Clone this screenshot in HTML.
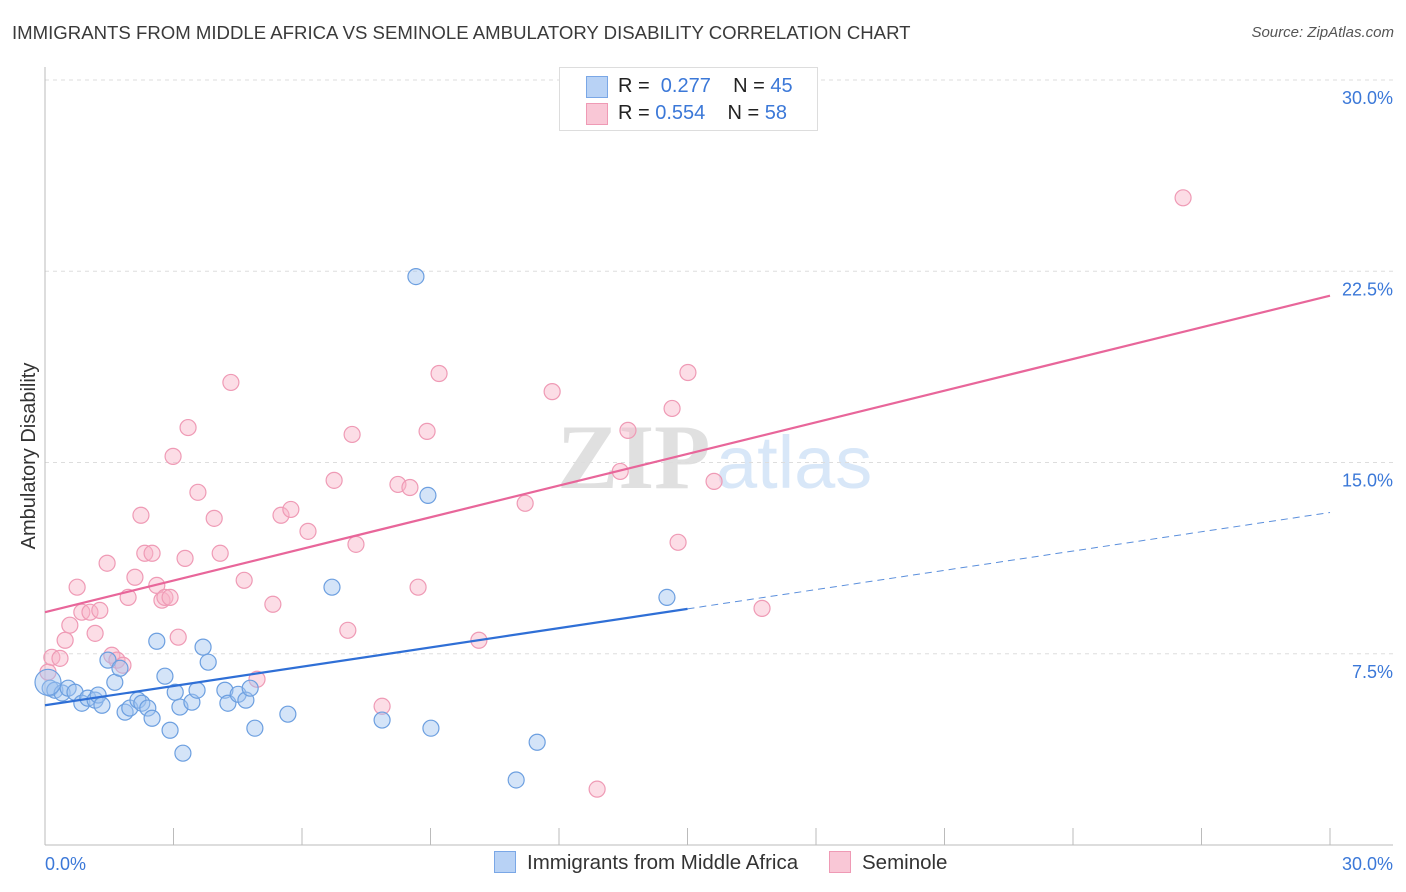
<!DOCTYPE html>
<html><head><meta charset="utf-8"><style>
body{margin:0;background:#fff;font-family:"Liberation Sans",sans-serif;}
#wrap{position:relative;width:1406px;height:892px;overflow:hidden;}
.t{position:absolute;white-space:nowrap;}
</style></head><body>
<div id="wrap">
<div class="t" style="left:12px;top:22px;font-size:18.6px;color:#3a3a3a;">IMMIGRANTS FROM MIDDLE AFRICA VS SEMINOLE AMBULATORY DISABILITY CORRELATION CHART</div>
<div class="t" style="right:12px;top:24px;font-size:15px;color:#555;font-style:italic;">Source: ZipAtlas.com</div>
<svg id="svg" width="1406" height="892" style="position:absolute;left:0;top:0"></svg>
</div>
<script>
const blueX=[0.12,0.23,0.40,0.54,0.70,0.86,1.00,1.17,1.24,1.33,1.47,1.63,1.75,1.87,1.98,2.17,2.26,2.40,2.50,2.61,2.80,2.92,3.04,3.15,3.22,3.43,3.55,3.69,3.81,4.20,4.27,4.51,4.69,4.79,4.90,5.67,6.70,7.87,8.66,8.94,9.01,11.00,11.49,14.52,0.07];
const blueY=[6.15,6.07,5.96,6.15,5.99,5.56,5.76,5.68,5.88,5.48,7.25,6.38,6.93,5.21,5.37,5.68,5.56,5.37,4.97,7.99,6.62,4.50,5.99,5.41,3.60,5.60,6.07,7.76,7.17,6.07,5.56,5.91,5.68,6.15,4.58,5.13,10.11,4.90,22.29,13.71,4.58,2.55,4.03,9.71,6.38];
const pinkX=[0.07,0.16,0.35,0.47,0.58,0.75,0.86,1.05,1.17,1.28,1.45,1.56,1.68,1.82,1.94,2.10,2.24,2.33,2.50,2.61,2.73,2.80,2.92,2.99,3.11,3.27,3.34,3.57,3.95,4.09,4.34,4.65,4.95,5.32,5.51,5.74,6.14,6.75,7.07,7.17,7.26,7.87,8.24,8.52,8.71,8.92,9.20,10.13,11.21,11.84,12.89,13.43,13.61,14.64,14.78,15.01,15.62,16.74,26.57];
const pinkY=[6.78,7.36,7.32,8.03,8.62,10.11,9.13,9.13,8.30,9.20,11.05,7.44,7.25,7.05,9.71,10.50,12.93,11.44,11.44,10.18,9.60,9.71,9.71,15.24,8.15,11.24,16.37,13.83,12.81,11.44,18.14,10.38,6.50,9.44,12.93,13.16,12.30,14.30,8.42,16.10,11.79,5.44,14.14,14.02,10.11,16.22,18.49,8.03,13.40,17.78,2.19,14.65,16.26,17.12,11.87,18.53,14.26,9.28,25.38];
const blueTrend=[5.48,13.04];
const pinkTrend=[9.13,21.54];
const yTicks=[7.5,15.0,22.5,30.0];
const yTickLabels=["7.5%","15.0%","22.5%","30.0%"];
const xTicks=[0,3,6,9,12,15,18,21,24,27,30];
const NS="http://www.w3.org/2000/svg";
const svg=document.getElementById('svg');
const X=v=>45+v*(1285/30);
const Y=v=>845-v*(765/30);
function el(t,a,p){const e=document.createElementNS(NS,t);for(const k in a)e.setAttribute(k,a[k]);(p||svg).appendChild(e);return e;}
let w=el('text',{x:557,y:488,'font-size':92,'font-family':'Liberation Serif,serif',fill:'#e0e0e0','font-weight':'bold'});w.textContent='ZIP';


let w2=el('text',{x:716,y:488,'font-size':74,'font-family':'Liberation Sans,sans-serif',fill:'#d8e7f8'});w2.textContent='atlas';


yTicks.forEach((v,i)=>{
 const g=el('line',{x1:45,x2:1393,y1:Y(v),y2:Y(v),stroke:'#ddd','stroke-dasharray':'4,4'});
 
 
 const t=el('text',{x:1393,y:Y(v)+24,'text-anchor':'end','font-size':18,fill:'#3b78d8'});t.textContent=yTickLabels[i];
 
 
});
let ax=el('line',{x1:45,x2:45,y1:67,y2:845,stroke:'#bbb'});


let axx=el('line',{x1:45,x2:1393,y1:845,y2:845,stroke:'#bbb'});


xTicks.forEach(v=>{const l=el('line',{x1:X(v),x2:X(v),y1:828,y2:845,stroke:'#bbb'});
 
 });
let xl=el('text',{x:45,y:870,'font-size':18,fill:'#3b78d8'});xl.textContent='0.0%';


let xr=el('text',{x:1393,y:870,'font-size':18,fill:'#3b78d8','text-anchor':'end'});xr.textContent='30.0%';


let yt=el('text',{x:35,y:456,'font-size':20,fill:'#333','text-anchor':'middle',transform:'rotate(-90 35 456)'});yt.textContent='Ambulatory Disability';


pinkX.forEach((x,i)=>{const c=el('circle',{cx:X(x),cy:Y(pinkY[i]),r:8,fill:'rgba(248,180,200,0.45)',stroke:'#ef9ab5','stroke-width':1.2});
 
 });
blueX.forEach((x,i)=>{const c=el('circle',{cx:X(x),cy:Y(blueY[i]),r:i==blueX.length-1?13:8,fill:'rgba(160,195,240,0.45)',stroke:'#6c9fe0','stroke-width':1.2});
 
 });
const by=x=>blueTrend[0]+(blueTrend[1]-blueTrend[0])*x/30;
let b1=el('line',{x1:X(0),y1:Y(by(0)),x2:X(15),y2:Y(by(15)),stroke:'#2f6fd6','stroke-width':2.2});


let b2=el('line',{x1:X(15),y1:Y(by(15)),x2:X(30),y2:Y(by(30)),stroke:'#5b8fdc','stroke-width':1,'stroke-dasharray':'7,5'});


let p1=el('line',{x1:X(0),y1:Y(pinkTrend[0]),x2:X(30),y2:Y(pinkTrend[1]),stroke:'#e8669a','stroke-width':2.2});


</script>
<div style="position:absolute;left:559px;top:67px;width:257px;height:62px;border:1px solid #ddd;background:#fff;font-size:20px;">
 <div style="position:absolute;left:26px;top:8px;width:20px;height:20px;background:#b8d2f5;border:1px solid #7aa7e6"></div>
 <div class="t" style="left:58px;top:7px;color:#222">R = <span style="color:#3b78d8">&nbsp;0.277</span>&nbsp;&nbsp;&nbsp;&nbsp;N = <span style="color:#3b78d8">45</span></div>
 <div style="position:absolute;left:26px;top:35px;width:20px;height:20px;background:#f9c7d6;border:1px solid #ef9ab5"></div>
 <div class="t" style="left:58px;top:34px;color:#222">R = <span style="color:#3b78d8">0.554</span>&nbsp;&nbsp;&nbsp;&nbsp;N = <span style="color:#3b78d8">58</span></div>
</div>
<div style="position:absolute;left:0;top:851px;width:1406px;font-size:20.5px;color:#333;">
 <div class="t" style="left:494px;top:0"><span style="display:inline-block;width:20px;height:20px;background:#b8d2f5;border:1px solid #7aa7e6;vertical-align:-4px;margin-right:11px"></span>Immigrants from Middle Africa</div>
 <div class="t" style="left:829px;top:0"><span style="display:inline-block;width:20px;height:20px;background:#f9c7d6;border:1px solid #ef9ab5;vertical-align:-4px;margin-right:11px"></span>Seminole</div>
</div>
</body></html>
